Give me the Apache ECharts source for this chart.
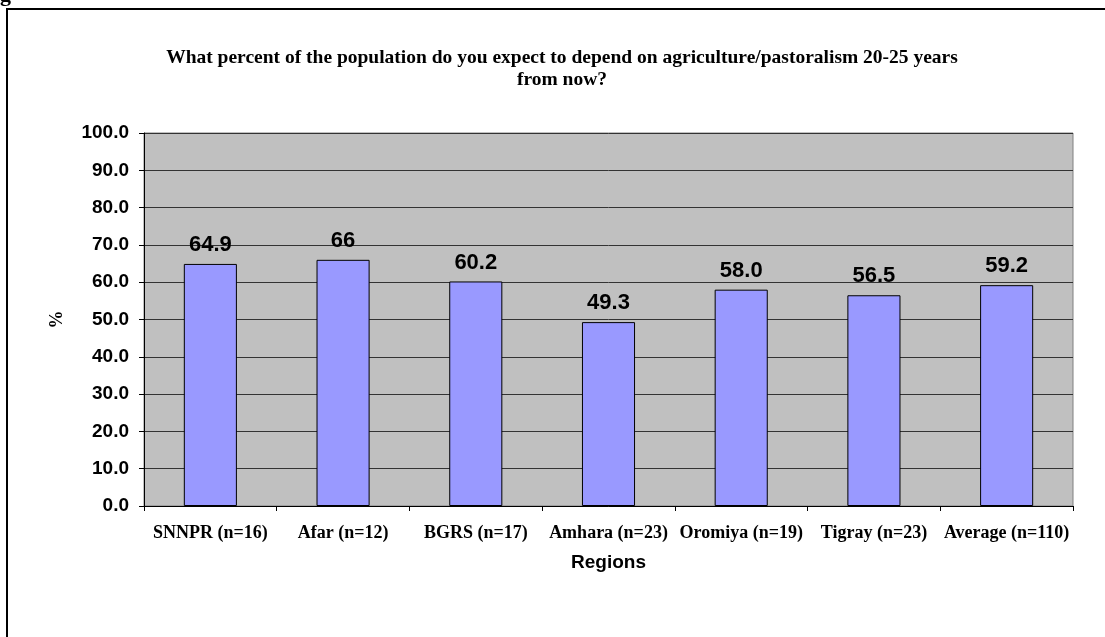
<!DOCTYPE html>
<html><head><meta charset="utf-8">
<script src="https://cdn.jsdelivr.net/npm/echarts@6/dist/echarts.min.js"></script>
<style>html,body{margin:0;padding:0;background:#fff}#c{width:1105px;height:637px}</style>
</head><body><div id="c"></div>
<script>
const categories = ['SNNPR (n=16)', 'Afar (n=12)', 'BGRS (n=17)', 'Amhara (n=23)', 'Oromiya (n=19)', 'Tigray (n=23)', 'Average (n=110)'];
const values = [64.9, 66, 60.2, 49.3, 58.0, 56.5, 59.2];
const valueLabels = ['64.9', '66', '60.2', '49.3', '58.0', '56.5', '59.2'];
const titleText = 'What percent of the population do you expect to depend on agriculture/pastoralism 20-25 years\nfrom now?';

const chart = echarts.init(document.getElementById('c'));
chart.setOption({
  animation: false,
  backgroundColor: '#fff',
  title: {
    text: titleText,
    left: 557, top: 42, textAlign: 'center',
    textStyle: {fontFamily: 'Liberation Serif', fontWeight: 'bold', fontSize: 19.5, color: '#000', lineHeight: 22}
  },
  graphic: [
    {type: 'rect', shape: {x: 7, y: 9, width: 1200, height: 700}, style: {fill: 'none', stroke: '#000', lineWidth: 2}, silent: true},
    {type: 'text', left: 0, top: -16, style: {text: 'g', font: 'bold 22px "Liberation Serif"', fill: '#000'}}
  ],
  grid: {left: 144, top: 133, right: 32, bottom: 131, show: true, backgroundColor: '#C0C0C0', borderColor: '#808080', borderWidth: 1},
  xAxis: {
    type: 'category', data: categories,
    name: 'Regions', nameLocation: 'middle', nameGap: 47,
    nameTextStyle: {fontFamily: 'Liberation Sans', fontWeight: 'bold', fontSize: 19, color: '#000'},
    axisLine: {lineStyle: {color: '#000', width: 1}},
    axisTick: {show: true, length: 5, lineStyle: {color: '#000'}},
    axisLabel: {interval: 0, margin: 18, fontFamily: 'Liberation Serif', fontWeight: 'bold', fontSize: 18, color: '#000'}
  },
  yAxis: {
    type: 'value', min: 0, max: 100, interval: 10,
    name: '%', nameLocation: 'middle', nameGap: 78,
    nameTextStyle: {fontFamily: 'Liberation Serif', fontWeight: 'bold', fontSize: 18, color: '#000'},
    axisLine: {show: true, lineStyle: {color: '#000', width: 1}},
    axisTick: {show: true, length: 5, lineStyle: {color: '#000'}},
    axisLabel: {margin: 15, formatter: v => v.toFixed(1), fontFamily: 'Liberation Sans', fontWeight: 'bold', fontSize: 19, color: '#000'},
    splitLine: {lineStyle: {color: '#333', width: 1}}
  },
  series: [{
    type: 'bar', data: values, barWidth: '40%',
    itemStyle: {color: '#9999FF', borderColor: '#000', borderWidth: 1},
    label: {show: true, position: 'top', distance: 8, formatter: p => valueLabels[p.dataIndex],
      fontFamily: 'Liberation Sans', fontWeight: 'bold', fontSize: 22, color: '#000'}
  }]
});
</script></body></html>
